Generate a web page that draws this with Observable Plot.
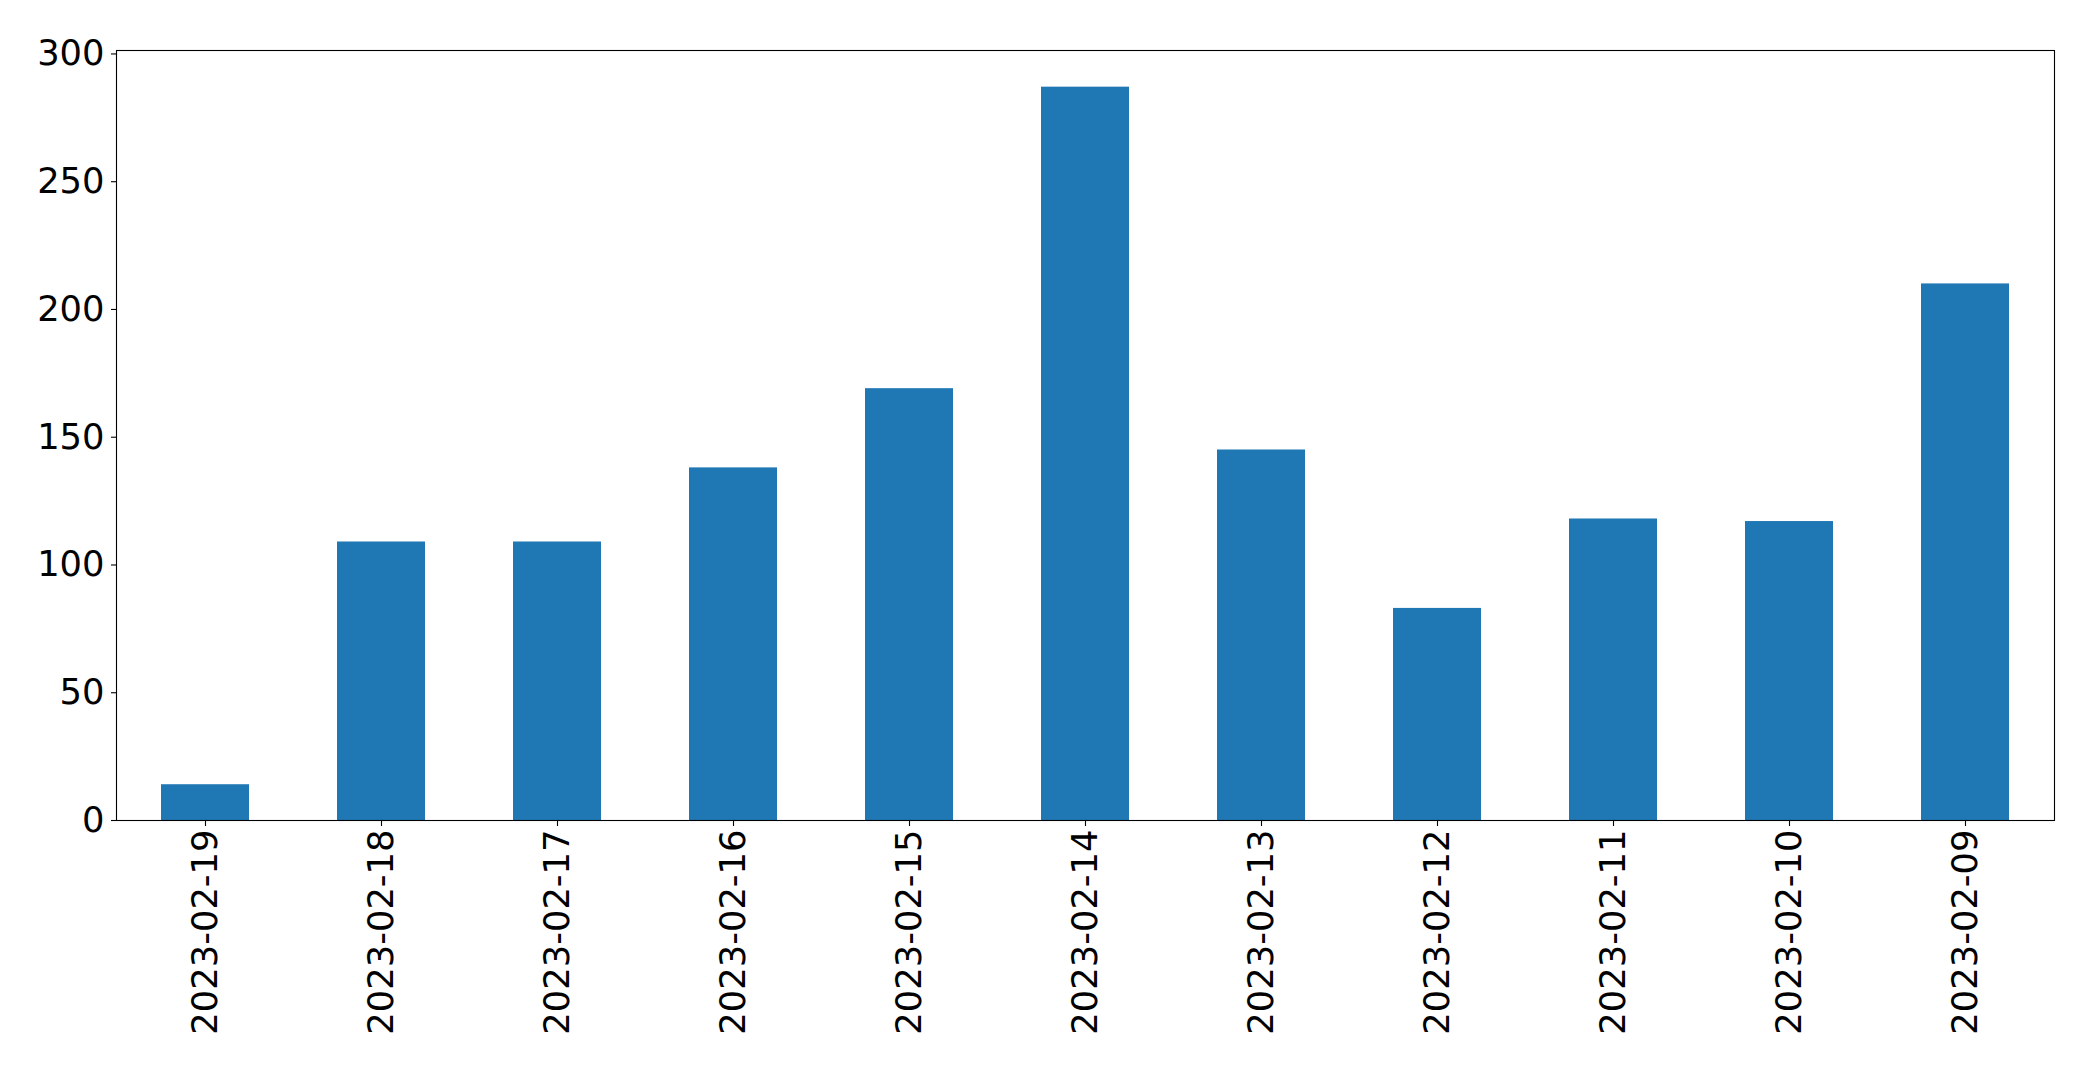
<!DOCTYPE html>
<html>
<head>
<meta charset="utf-8">
<script src="https://cdn.jsdelivr.net/npm/d3@7"></script>
<script src="https://cdn.jsdelivr.net/npm/@observablehq/plot@0.6"></script>
<style>
  html, body { margin: 0; padding: 0; background: #fff; }
  #chart { width: 2093px; height: 1072px; }
</style>
</head>
<body>
<div id="chart"></div>
<script>
const dates = ["2023-02-19","2023-02-18","2023-02-17","2023-02-16","2023-02-15","2023-02-14","2023-02-13","2023-02-12","2023-02-11","2023-02-10","2023-02-09"];
const counts = [14, 109, 109, 138, 169, 287, 145, 83, 118, 117, 210];
const yTicks = [0, 50, 100, 150, 200, 250, 300];

const data = dates.map((d, i) => ({date: d, count: counts[i]}));
const yMax = d3.max(counts) * 1.05;

const chart = Plot.plot({
  width: 2093,
  height: 1072,
  marginLeft: 116,
  marginRight: 39,
  marginTop: 50,
  marginBottom: 252,
  style: {fontFamily: "DejaVu Sans", fontSize: "35.3px", color: "black", background: "white"},
  x: {type: "band", domain: dates, paddingInner: 0.5, paddingOuter: 0.25, label: null},
  y: {domain: [0, yMax], label: null},
  marks: [
    Plot.barY(data, {x: "date", y: "count", fill: "#1f77b4"}),
    Plot.frame({stroke: "black", strokeWidth: 1.1}),
    Plot.axisY({ticks: yTicks, tickSize: 5, tickPadding: 7, strokeWidth: 1.1, label: null, fontSize: 35.3}),
    Plot.axisX({tickRotate: -90, tickSize: 6, tickPadding: 3, strokeWidth: 1.1, label: null, fontSize: 35.3})
  ]
});
document.getElementById("chart").appendChild(chart);
</script>
</body>
</html>
